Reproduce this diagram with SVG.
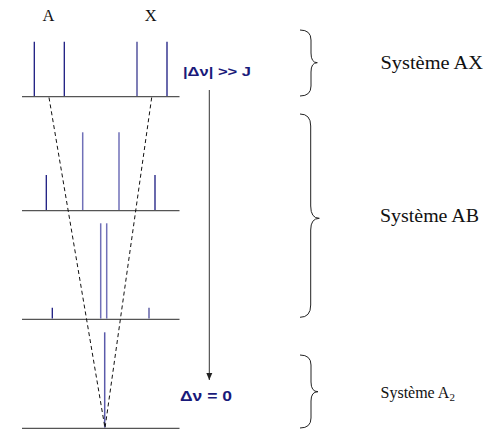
<svg xmlns="http://www.w3.org/2000/svg" width="489" height="430" viewBox="0 0 489 430">
<style>
.base{stroke:#555;stroke-width:1.3;fill:none}
.dk{stroke:#1a1a80;stroke-width:1.3}
.lt{stroke:#7070b8;stroke-width:1.5}
.dash{stroke:#111;stroke-width:1;stroke-dasharray:4,3;fill:none}
.brace{stroke:#222;stroke-width:1;fill:none}
.serif{font-family:"Liberation Serif","Times New Roman",serif;fill:#111}
.bold{font-family:"Liberation Sans",Arial,sans-serif;font-weight:bold;fill:#1a1a7a}
</style>
<defs>
<marker id="ah" markerWidth="8" markerHeight="8" refX="7" refY="4" orient="auto" markerUnits="userSpaceOnUse">
<path d="M0,1 L7,4 L0,7 Z" fill="#222"/>
</marker>
</defs>
<rect width="489" height="430" fill="#fff"/>
<g id="labels-top">
<text class="serif" x="48.5" y="20.5" font-size="16.5" text-anchor="middle">A</text>
<text class="serif" x="150.8" y="20.5" font-size="16.5" text-anchor="middle">X</text>
</g>
<g id="spectrum-ax">
<line class="base" x1="22" y1="96.7" x2="179.5" y2="96.7"/>
<line class="dk" x1="34.3" y1="41.7" x2="34.3" y2="96"/>
<line class="dk" x1="64.3" y1="41.7" x2="64.3" y2="96"/>
<line class="dk" x1="137" y1="41.7" x2="137" y2="96" style="stroke:#3a3a90"/>
<line class="dk" x1="167" y1="41.7" x2="167" y2="96"/>
</g>
<g id="spectrum-ab1">
<line class="base" x1="22" y1="210.7" x2="179.5" y2="210.7"/>
<line class="dk" x1="46.3" y1="175" x2="46.3" y2="210"/>
<line class="lt" x1="82.7" y1="132.3" x2="82.7" y2="210"/>
<line class="lt" x1="119" y1="132.3" x2="119" y2="210"/>
<line class="dk" x1="155" y1="175" x2="155" y2="210"/>
</g>
<g id="spectrum-ab2">
<line class="base" x1="22" y1="319.3" x2="179.5" y2="319.3"/>
<line class="dk" x1="52.3" y1="307.7" x2="52.3" y2="318.6"/>
<line class="lt" x1="100.7" y1="223.3" x2="100.7" y2="318.6"/>
<line class="lt" x1="106.7" y1="223.3" x2="106.7" y2="318.6"/>
<line class="dk" x1="149" y1="307.7" x2="149" y2="318.6" style="stroke:#4a4a9a"/>
</g>
<g id="spectrum-a2">
<line class="base" x1="22" y1="428.3" x2="179.5" y2="428.3"/>
<line class="lt" x1="104.7" y1="332.3" x2="104.7" y2="427.6" style="stroke:#5a5aaa"/>
</g>
<g id="connectors">
<line class="dash" x1="49" y1="97.5" x2="105" y2="428"/>
<line class="dash" x1="151.7" y1="97.5" x2="105" y2="428"/>
<line x1="209.3" y1="90" x2="209.3" y2="380" stroke="#333" stroke-width="1" marker-end="url(#ah)"/>
</g>
<g id="label-dnu">
<text class="bold" x="183" y="76" font-size="13.5" textLength="68" lengthAdjust="spacingAndGlyphs">|Δν| &gt;&gt; J</text>
<text class="bold" x="180" y="400.7" font-size="14.5" textLength="52" lengthAdjust="spacingAndGlyphs">Δν = 0</text>
</g>
<g id="system-ax">
<path class="brace" d="M300,30 Q311,30 311,40 L311,53 Q311,62.7 317.3,62.7 Q311,62.7 311,72 L311,86 Q311,96 300,96"/>
<text class="serif" x="380.5" y="69.3" font-size="18" textLength="102.5" lengthAdjust="spacingAndGlyphs">Système AX</text>
</g>
<g id="system-ab">
<path class="brace" d="M300,114 Q310.7,114 310.7,126 L310.7,206 Q310.7,218.3 319.3,218.3 Q310.7,218.3 310.7,230 L310.7,305 Q310.7,317.3 300,317.3"/>
<text class="serif" x="380" y="221.7" font-size="18" textLength="99" lengthAdjust="spacingAndGlyphs">Système AB</text>
</g>
<g id="system-a2">
<path class="brace" d="M300,355 Q311,355 311,365 L311,382 Q311,391.7 318,391.7 Q311,391.7 311,401 L311,418 Q311,428 300,428"/>
<text class="serif" x="380.5" y="397.7" font-size="16">Système A<tspan font-size="11" dy="3.5">2</tspan></text>
</g>
</svg>
